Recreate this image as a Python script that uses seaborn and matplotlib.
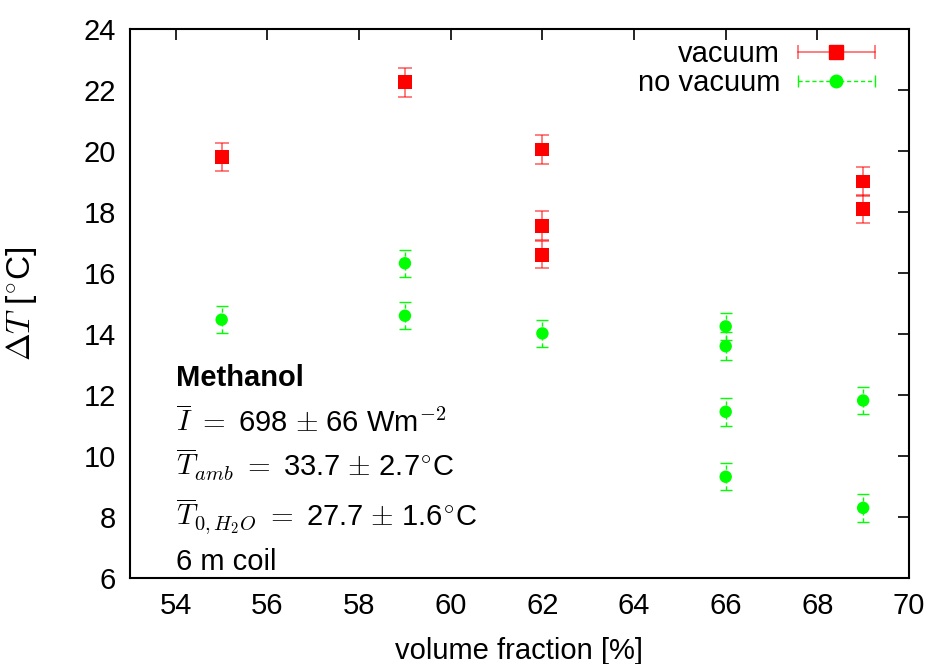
import numpy as np
import pandas as pd
import seaborn as sns
import matplotlib
matplotlib.use("Agg")
import matplotlib.pyplot as plt
from matplotlib.lines import Line2D
from matplotlib.legend_handler import HandlerLine2D, HandlerTuple

# ---- data ----
vac_x = [55, 59, 62, 62, 62, 69, 69]
vac_y = [19.8, 22.25, 20.05, 17.55, 16.6, 19.0, 18.1]
vac_err = [0.47, 0.47, 0.47, 0.47, 0.45, 0.47, 0.45]

novac_x = [55, 59, 59, 62, 66, 66, 66, 66, 69, 69]
novac_y = [14.47, 16.32, 14.6, 14.02, 14.25, 13.6, 11.45, 9.32, 11.82, 8.3]
novac_err = [0.45, 0.45, 0.45, 0.45, 0.45, 0.45, 0.45, 0.45, 0.45, 0.45]

x_ticks = [54, 56, 58, 60, 62, 64, 66, 68, 70]
y_ticks = [6, 8, 10, 12, 14, 16, 18, 20, 22, 24]

annot_lines = [
    "Methanol",
    r"$\overline{I}\ =$ 698 $\pm$ 66 Wm$^{-2}$",
    r"$\overline{T}_{amb}\ =$ 33.7 $\pm$ 2.7$^{\circ}$C",
    r"$\overline{T}_{0,H_2O}\ =$ 27.7 $\pm$ 1.6$^{\circ}$C",
    "6 m coil",
]
annot_y = [12.56, 11.11, 9.7, 8.03, 6.52]

sns.set_style("white")
plt.rcParams['font.family'] = ['Liberation Sans', 'DejaVu Sans']
plt.rcParams['mathtext.fontset'] = 'cm'
plt.rcParams['font.size'] = 21
plt.rcParams['text.color'] = 'black'
plt.rcParams['axes.labelcolor'] = 'black'
plt.rcParams['xtick.color'] = 'black'
plt.rcParams['ytick.color'] = 'black'

FS = 21
RED = '#ff0000'
GREEN = '#00ff00'

fig = plt.figure(figsize=(9.32, 6.64), dpi=100)
ax = fig.add_axes([0.1395, 0.1295, 0.9753 - 0.1395, 0.9563 - 0.1295])

df_v = pd.DataFrame({'x': vac_x, 'y': vac_y, 'e': vac_err})
df_n = pd.DataFrame({'x': novac_x, 'y': novac_y, 'e': novac_err})

# error bars
ax.errorbar(df_v['x'], df_v['y'], yerr=df_v['e'], fmt='none', ecolor=RED,
            elinewidth=1.3, capsize=5, capthick=1.3, alpha=0.55, zorder=2)
eb = ax.errorbar(df_n['x'], df_n['y'], yerr=df_n['e'], fmt='none', ecolor=GREEN,
                 elinewidth=1.0, capsize=4, capthick=1.0, zorder=2)
for lc in eb[2]:
    lc.set_linestyle((0, (3, 2)))

sns.scatterplot(data=df_v, x='x', y='y', ax=ax, marker='s', color=RED, s=100,
                edgecolor='none', linewidth=0, zorder=3, legend=False)
sns.scatterplot(data=df_n, x='x', y='y', ax=ax, marker='o', color=GREEN, s=80,
                edgecolor='none', linewidth=0, zorder=3, legend=False)

ax.set_xlim(53, 70)
ax.set_ylim(6, 24)
ax.set_xticks(x_ticks)
ax.set_yticks(y_ticks)
ax.tick_params(direction='in', length=8, width=1.2, top=True, right=True,
               labelsize=FS, pad=10, colors='black')
for sp in ax.spines.values():
    sp.set_visible(True)
    sp.set_color('black')
    sp.set_linewidth(1.5)

ax.set_xlabel("volume fraction [%]", fontsize=FS, labelpad=12)
ax.set_ylabel(r"$\Delta T$ [$^{\circ}$C]", fontsize=24, labelpad=32)

for i, (txt, yy) in enumerate(zip(annot_lines, annot_y)):
    ax.text(54.0, yy, txt, fontsize=FS, va='center', ha='left',
            fontweight='bold' if i == 0 else 'normal', zorder=4)

# legend
cap_v = Line2D([], [], color=RED, lw=1.3, alpha=0.55, marker='|', markersize=10, markeredgewidth=1.3)
mk_v = Line2D([], [], color=RED, ls='none', marker='s', markersize=10)
cap_n = Line2D([], [], color=GREEN, lw=1.0, ls=(0, (3, 2)), marker='|', markersize=8, markeredgewidth=1.0)
mk_n = Line2D([], [], color=GREEN, ls='none', marker='o', markersize=9)
hv = (cap_v, mk_v)
hn = (cap_n, mk_n)
hmap = {cap_v: HandlerLine2D(numpoints=2), cap_n: HandlerLine2D(numpoints=2),
        mk_v: HandlerLine2D(numpoints=1), mk_n: HandlerLine2D(numpoints=1)}
leg = ax.legend([hv, hn], ["vacuum", "no vacuum"], handler_map=hmap,
                loc='upper right', bbox_to_anchor=(0.99, 1.012), frameon=False,
                markerfirst=False, handlelength=3.25, handletextpad=0.3,
                labelspacing=0.05, fontsize=FS, borderaxespad=0.2)
for t in leg.get_texts():
    t.set_ha('right')

fig.savefig("out.png", dpi=100)
